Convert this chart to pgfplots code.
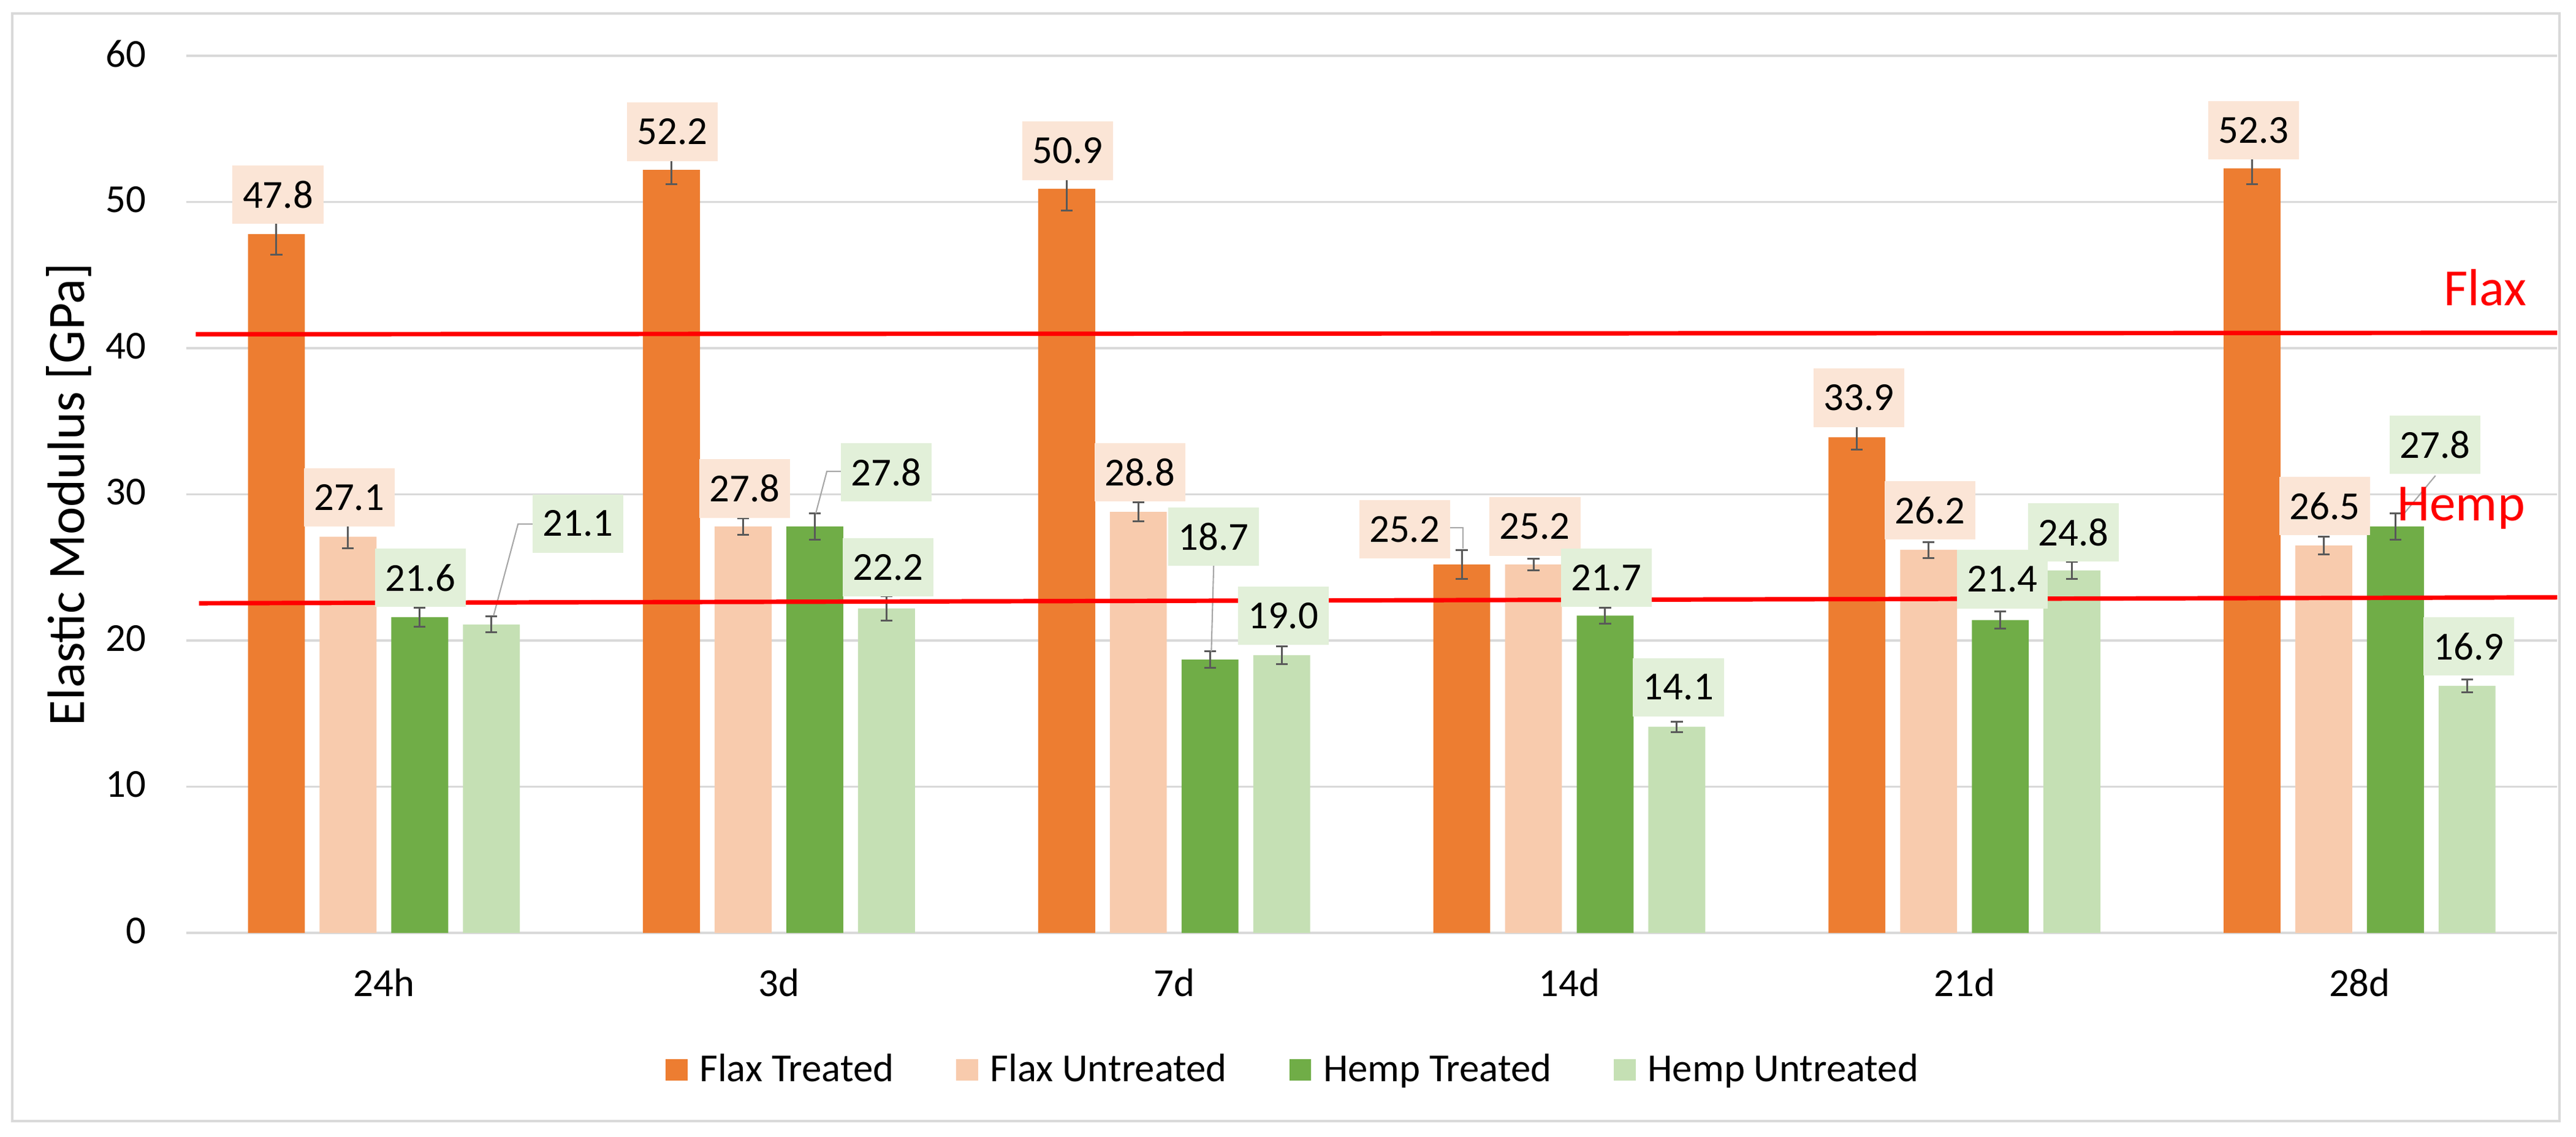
\documentclass[border=0pt]{standalone}
\usepackage{fontspec}
\setmainfont{Carlito}
\usepackage{pgfplots}
\pgfplotsset{compat=1.18}

\definecolor{ft}{HTML}{ED7D31}
\definecolor{fu}{HTML}{F8CBAD}
\definecolor{ht}{HTML}{70AD47}
\definecolor{hu}{HTML}{C5E0B4}
\definecolor{flaxlab}{HTML}{FBE5D6}
\definecolor{hemplab}{HTML}{E2F0D9}
\definecolor{gridgray}{HTML}{D9D9D9}
\definecolor{errgray}{HTML}{595959}
\definecolor{leadgray}{HTML}{A6A6A6}

\newcommand\lab{\fontsize{10.8}{13}\selectfont}

\tikzset{labbox/.style={anchor=center, inner sep=0pt, minimum width=24.7pt,
    minimum height=15.9pt, font=\lab, text=black}}

% bars sit at their own x (group centre +- shift), so error bars line up
\pgfplotsset{
  bars/.style={ybar, bar width=0.144, bar shift=0pt, draw=none,
    error bars/y dir=both, error bars/y explicit,
    error bars/error bar style={color=errgray, line width=0.5pt},
    error bars/error mark options={color=errgray, line width=0.5pt, mark size=1.6pt, rotate=90}},
}

\begin{document}
\begin{tikzpicture}
\path[use as bounding box, fill=white] (-50.67pt,-55.5pt) rectangle (649.83pt,253.67pt);
\draw[gridgray, line width=0.75pt] (-47.33pt,-51.17pt) rectangle (645.33pt,250pt);
\begin{axis}[
    at={(0pt,0pt)}, anchor=south west,
    scale only axis, width=644.7pt, height=238.5pt,
    xmin=-0.5, xmax=5.5, ymin=0, ymax=60,
    xtick={0,...,5}, xticklabels={24h,3d,7d,14d,21d,28d},
    ytick={0,10,...,60},
    ymajorgrids, grid style={draw=gridgray, line width=0.65pt},
    axis line style={draw=none},
    major tick length=0pt,
    tick label style={font=\lab, text=black},
    xticklabel style={anchor=base, inner sep=0pt, yshift=-17.3pt},
    yticklabel style={anchor=east, inner sep=0pt, xshift=-10.8pt, yshift=0.6pt},
    /pgf/number format/assume math mode=true,
    ylabel={Elastic Modulus [GPa]},
    ylabel style={at={(axis description cs:-0.0431,0.5)}, anchor=base,
        font=\fontsize{14.3}{17}\selectfont},
    legend style={at={(0.4664,-0.1572)}, anchor=center, draw=none, fill=none,
        legend columns=4, font=\lab, nodes={inner sep=0pt},
        /tikz/every odd column/.append style={column sep=3.3pt},
        /tikz/every even column/.append style={column sep=17pt}},
    legend image code/.code={\fill[#1] (0pt,-2.7pt) rectangle (5.9pt,3.2pt);},
    clip=false,
]
% Flax Treated
\addplot[bars, fill=ft]
  coordinates {(-0.2721,47.8) +- (0,1.4) (0.7279,52.2) +- (0,1.0) (1.7279,50.9) +- (0,1.5)
               (2.7279,25.2) +- (0,1.0) (3.7279,33.9) +- (0,0.85) (4.7279,52.3) +- (0,1.1)};
% Flax Untreated
\addplot[bars, fill=fu]
  coordinates {(-0.0907,27.1) +- (0,0.8) (0.9093,27.8) +- (0,0.55) (1.9093,28.8) +- (0,0.65)
               (2.9093,25.2) +- (0,0.4) (3.9093,26.2) +- (0,0.55) (4.9093,26.5) +- (0,0.6)};
% Hemp Treated
\addplot[bars, fill=ht]
  coordinates {(0.0907,21.6) +- (0,0.65) (1.0907,27.8) +- (0,0.9) (2.0907,18.7) +- (0,0.55)
               (3.0907,21.7) +- (0,0.55) (4.0907,21.4) +- (0,0.6) (5.0907,27.8) +- (0,0.9)};
% Hemp Untreated
\addplot[bars, fill=hu]
  coordinates {(0.2721,21.1) +- (0,0.55) (1.2721,22.2) +- (0,0.85) (2.2721,19.0) +- (0,0.6)
               (3.2721,14.1) +- (0,0.35) (4.2721,24.8) +- (0,0.6) (5.2721,16.9) +- (0,0.45)};
\legend{{\vphantom{Hp}Flax Treated},{\vphantom{Hp}Flax Untreated},
        {\vphantom{Hp}Hemp Treated},{\vphantom{Hp}Hemp Untreated}}

% leader lines of moved labels
\addplot[forget plot, leadgray, line width=0.35pt] coordinates {(0.2775,21.7) (0.3395,27.97) (0.377,27.97)};
\addplot[forget plot, leadgray, line width=0.35pt] coordinates {(1.093,28.7) (1.121,31.57) (1.157,31.57)};
\addplot[forget plot, leadgray, line width=0.35pt] coordinates {(2.094,19.25) (2.100,25.13)};
\addplot[forget plot, leadgray, line width=0.35pt] coordinates {(2.698,27.7) (2.731,27.7) (2.731,26.3)};
\addplot[forget plot, leadgray, line width=0.35pt] coordinates {(5.192,31.28) (5.113,28.7)};

% data labels
\addplot[forget plot, only marks, mark=none, nodes near coords, point meta=explicit symbolic,
  nodes near coords style={labbox, fill=flaxlab}] table[meta=lab] {
x y lab
-0.268 50.5 47.8
0.730 54.8 52.2
1.731 53.5 50.9
2.583 27.6 25.2
3.733 36.6 33.9
4.732 54.9 52.3
-0.088 29.8 27.1
0.913 30.4 27.8
1.913 31.5 28.8
2.913 27.8 25.2
3.913 28.9 26.2
4.912 29.2 26.5
};
\addplot[forget plot, only marks, mark=none, nodes near coords, point meta=explicit symbolic,
  nodes near coords style={labbox, fill=hemplab}] table[meta=lab] {
x y lab
0.093 24.3 21.6
0.491 28.0 21.1
1.271 31.5 27.8
1.276 25.0 22.2
2.100 27.1 18.7
2.276 21.7 19.0
3.094 24.3 21.7
3.276 16.8 14.1
4.096 24.2 21.4
4.276 27.4 24.8
5.191 33.4 27.8
5.276 19.6 16.9
};

% reference lines
\addplot[forget plot, red, line width=1.2pt] coordinates {(-0.476,40.95) (5.5,41.05)};
\addplot[forget plot, red, line width=1.2pt] coordinates {(-0.468,22.55) (5.5,22.95)};
\node[anchor=base, text=red, font=\fontsize{14.2}{17}\selectfont] at (axis cs:5.318,42.9) {Flax};
\node[anchor=base, text=red, font=\fontsize{14.2}{17}\selectfont] at (axis cs:5.257,28.2) {Hemp};
\end{axis}
\end{tikzpicture}
\end{document}
